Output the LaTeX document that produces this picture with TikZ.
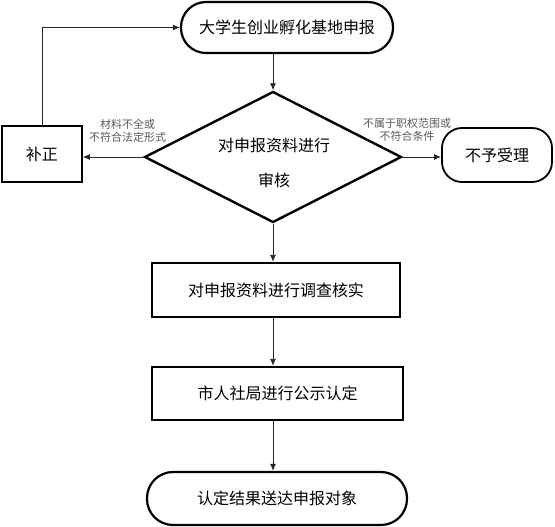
\documentclass[tikz,border=0pt]{standalone}
\usepackage{fontspec}
\newfontfamily\cjk{Noto Sans CJK SC}
\usetikzlibrary{shapes,arrows,positioning,fit,calc,arrows.meta}

\begin{document}
\begin{tikzpicture}[x=1pt, y=-1pt,
    box/.style={draw, line width=2.4pt, minimum width=248pt, minimum height=54pt, inner sep=0pt, font=\cjk\fontsize{16}{19}\selectfont},
    term/.style={draw, line width=2.2pt, rounded corners=25pt, inner sep=0pt, font=\cjk\fontsize{16}{19}\selectfont},
    note/.style={font=\cjk\fontsize{11}{13}\selectfont, text=black!65, align=center, inner sep=0pt},
    arr/.style={-{Latex[length=7pt,width=6pt]}, line width=0.9pt, black!85}
]
\useasboundingbox (0,0) rectangle (555,527);

% Demande
\node[term, minimum width=212pt, minimum height=51pt] (apply) at (287,27.5) {大学生创业孵化基地申报};

% Examen
\node[draw, diamond, line width=2.4pt, minimum width=257pt, minimum height=131pt, inner sep=0pt] (check) at (273,157) {};
\node[font=\cjk\fontsize{16}{35}\selectfont, align=center] (checktext) at (274,162.5) {对申报资料进行\\审核};

% Correction et refus
\node[draw, line width=1.6pt, minimum width=80pt, minimum height=56pt, font=\cjk\fontsize{16}{19}\selectfont] (fix) at (42,154) {补正};
\node[term, minimum width=110pt, minimum height=54pt, rounded corners=20pt, line width=1.8pt] (reject) at (497,155) {不予受理};
\node[note] (lackmsg) at (127.5,130.5) {材料不全或\\不符合法定形式};
\node[note] (outmsg) at (407,130) {不属于职权范围或\\不符合条件};

% Suite
\node[box] (verify) at (276,290) {对申报资料进行调查核实};
\node[box, minimum width=251pt, minimum height=53pt] (publish) at (277.5,393.5) {市人社局进行公示认定};
\node[term, minimum width=260pt, minimum height=53pt, rounded corners=26pt] (notify) at (277,498.5) {认定结果送达申报对象};

\draw[arr] (apply.south -| check.north) -- (check.north);
\draw[arr] (check.west) -- (check.west -| fix.east);
\draw[arr] (check.east) -- (check.east -| reject.west);
\draw[arr] (fix.north) |- (apply.west);
\draw[arr] (check.south) -- (verify.north -| check.south);
\draw[arr] (verify.south -| check.south) -- (publish.north -| check.south);
\draw[arr] (publish.south -| check.south) -- (notify.north -| check.south);
\end{tikzpicture}
\end{document}
